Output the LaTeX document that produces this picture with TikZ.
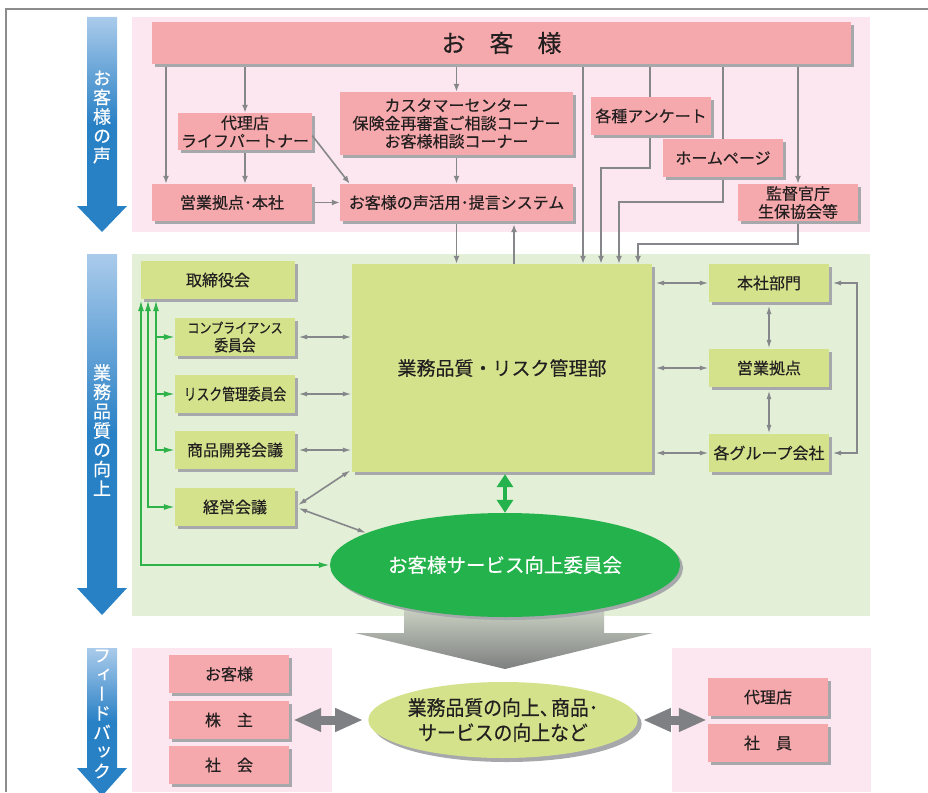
\documentclass[tikz,border=0pt]{standalone}
\usepackage{fontspec}
\usepackage{graphicx}
\setmainfont{Noto Sans CJK JP}[FakeBold=0.35]
\newfontfamily\vjp[RawFeature=+vert,FakeBold=0.35]{Noto Sans CJK JP}
\usetikzlibrary{arrows.meta,shadows,calc,shapes.geometric}
\definecolor{pinkbg}{HTML}{FCE7F0}
\definecolor{greenbg}{HTML}{E3EFD6}
\definecolor{pinkbox}{HTML}{F5A9AC}
\definecolor{greenbox}{HTML}{D4E38B}
\definecolor{shadowc}{HTML}{A7A8AB}
\definecolor{linegray}{HTML}{85878A}
\definecolor{thickgray}{HTML}{7F8083}
\definecolor{arrgreen}{HTML}{2DB34A}
\definecolor{ellgreen}{HTML}{23B24C}
\definecolor{blueA}{HTML}{AACBEB}
\definecolor{blueB}{HTML}{2880C5}
\definecolor{txt}{HTML}{231F20}
\definecolor{framegray}{HTML}{8C8C8C}
\definecolor{garrA}{HTML}{D3DCCB}
\definecolor{garrB}{HTML}{7E7F80}
\begin{document}
\begin{tikzpicture}[x=1pt,y=-1pt,
  boxbase/.style={draw=none, inner sep=0pt, text=txt, align=center,
    font=\fontsize{16}{18}\selectfont,
    general shadow={fill=shadowc, shadow xshift=3pt, shadow yshift=-3pt}},
  pbox/.style={boxbase, fill=pinkbox},
  gbox/.style={boxbase, fill=greenbox},
  sbox/.style={minimum width=120pt, minimum height=38pt},
  vtext/.style={text=white, align=center, inner sep=0pt, font=\vjp\fontsize{18}{19.3}\selectfont},
  gline/.style={draw=linegray, line width=1.6pt},
  garr/.style={gline, -{Latex[length=8pt,width=6pt]}},
  gdbl/.style={gline, {Latex[length=9pt,width=5pt]}-{Latex[length=9pt,width=5pt]}},
  grn/.style={draw=arrgreen, line width=1.5pt},
  grnarr/.style={grn, -{Latex[length=11pt,width=6pt]}},
  grndbl/.style={grn, {Latex[length=11pt,width=6pt]}-{Latex[length=11pt,width=6pt]}},
  thickdbl/.style={draw=thickgray, line width=9pt, {Triangle[length=28pt,width=22pt]}-{Triangle[length=28pt,width=22pt]}},
  bluearrow/.style={top color=blueA, bottom color=blueB, middle color=blueB}
]
\useasboundingbox (0,0) rectangle (928,792);
% frame
\draw[framegray, line width=1.5pt] (6,792) -- (6,9) -- (928,9);
% backgrounds
\fill[pinkbg] (132,17) rectangle (870,232);
\fill[greenbg] (132,254) rectangle (870,616);
\fill[pinkbg] (132,648) rectangle (332,792);
\fill[pinkbg] (672,648) rectangle (871,792);
% blue arrows
\shade[bluearrow] (87,17) -- (117,17) -- (117,206) -- (127,206) -- (102,232) -- (77,206) -- (87,206) -- cycle;
\shade[bluearrow] (87,254) -- (117,254) -- (117,588) -- (127,588) -- (102,615) -- (77,588) -- (87,588) -- cycle;
\begin{scope}
\clip (0,0) rectangle (928,792);
\shade[bluearrow] (87,648) -- (117,648) -- (117,768) -- (127,768) -- (102,796) -- (77,768) -- (87,768) -- cycle;
\end{scope}
\node[vtext] (v1) at (102,117) {お\\客\\様\\の\\声};
\node[vtext] (v2) at (102,430) {業\\務\\品\\質\\の\\向\\上};
\node[vtext] (v3) at (102,714) {フ\\ィ\\ー\\ド\\バ\\ッ\\ク};

% ---------- top section
\node[pbox, minimum width=699pt, minimum height=42pt] (kyaku) at (501.5,43) {\fontsize{24}{26}\selectfont お　客　様};
\node[pbox, minimum width=134pt, minimum height=37pt] (dairi) at (245,131.5) {代理店\\ライフパートナー};
\node[pbox, minimum width=160pt, minimum height=37pt] (eigyo) at (232,202.5) {営業拠点･本社};
\node[pbox, minimum width=233pt, minimum height=63pt] (cust) at (456.5,123.5) {カスタマーセンター\\保険金再審査ご相談コーナー\\お客様相談コーナー};
\node[pbox, minimum width=233pt, minimum height=37pt] (koe) at (456.5,202.5) {お客様の声活用･提言システム};
\node[pbox, sbox] (anke) at (651,116) {各種アンケート};
\node[pbox, sbox] (home) at (723,158) {ホームページ};
\node[pbox, minimum width=120pt, minimum height=37pt] (kantoku) at (798,202.5) {監督官庁\\生保協会等};

% ---------- middle section
\node[gbox, minimum width=154pt, minimum height=38pt] (tori) at (218,280) {取締役会};
\node[gbox, sbox] (comp) at (235,337) {\fontsize{14}{15}\selectfont\scalebox{0.86}[1]{コンプライアンス}\\\scalebox{0.86}[1]{委員会}};
\node[gbox, sbox] (risk) at (235,394) {\scalebox{0.8}[1]{リスク管理委員会}};
\node[gbox, sbox] (shohin) at (235,450) {商品開発会議};
\node[gbox, sbox] (keiei) at (235,507) {経営会議};
\node[gbox, minimum width=300pt, minimum height=208pt] (big) at (502,368) {\fontsize{19}{21}\selectfont 業務品質・リスク管理部};
\node[gbox, sbox] (honsha) at (769,283) {本社部門};
\node[gbox, sbox] (eigyo2) at (769,368) {営業拠点};
\node[gbox, sbox] (group) at (769,453) {各グループ会社};

% big gray arrow (under ellipse)
\shade[top color=garrA, bottom color=garrB] (404,600) -- (604,600) -- (604,633) -- (653,633) -- (505,669) -- (355,633) -- (404,633) -- cycle;

\node[ellipse, fill=ellgreen, minimum width=350pt, minimum height=104pt, inner sep=0pt,
  general shadow={fill=shadowc, shadow xshift=3pt, shadow yshift=-3pt},
  text=white, font=\fontsize{19.5}{22}\selectfont] (ell) at (505,565) {お客様サービス向上委員会};

% ---------- bottom section
\node[pbox, sbox] (kyaku2) at (229,674) {お客様};
\node[pbox, sbox] (kabu) at (229,720) {株　主};
\node[pbox, sbox] (shakai) at (229,765) {社　会};
\node[pbox, sbox] (dairi2) at (768,697) {代理店};
\node[pbox, sbox] (shain) at (768,743) {社　員};
\node[ellipse, fill=greenbox, minimum width=240pt, minimum height=76pt, inner sep=0pt,
  general shadow={fill=shadowc, shadow xshift=4pt, shadow yshift=-4pt},
  text=txt, align=center, font=\fontsize{20.5}{25}\selectfont] (ell2) at (503,720)
  {\scalebox{0.92}[1]{業務品質の向上、\hspace{-0.4em}商品･}\\\scalebox{0.92}[1]{サービスの向上など}};

% ---------- coordinates for connector x positions
\coordinate (xa) at (166,0);
\coordinate (xb) at (583,0);
\coordinate (xc) at (650,0);
\coordinate (xc2) at (601,0);
\coordinate (xd) at (723,0);
\coordinate (xd2) at (619,0);
\coordinate (xe) at (798,0);
\coordinate (xe2) at (638,0);
\coordinate (xu) at (514,0);
\coordinate (ya) at (0,168);
\coordinate (yb) at (0,202);
\coordinate (yc) at (0,244);
\coordinate (g1) at (141,0);
\coordinate (g2) at (148,0);
\coordinate (g3) at (156,0);
\coordinate (br) at (857,0);

% ---------- top connectors
\draw[garr, shorten <=3pt] (xa |- kyaku.south) -- (xa |- eigyo.north);
\draw[garr, shorten <=3pt] (dairi.north |- kyaku.south) -- (dairi.north);
\draw[garr, shorten <=3pt] (cust.north |- kyaku.south) -- (cust.north);
\draw[garr, shorten <=3pt] (xb |- kyaku.south) -- (xb |- big.north);
\draw[gline, shorten <=3pt] (xc |- kyaku.south) -- (xc |- anke.north);
\draw[garr, shorten <=3pt] (xc |- anke.south) -- (xc |- ya) -- (xc2 |- ya) -- (xc2 |- big.north);
\draw[gline, shorten <=3pt] (xd |- kyaku.south) -- (xd |- home.north);
\draw[garr, shorten <=3pt] (xd |- home.south) -- (xd |- yb) -- (xd2 |- yb) -- (xd2 |- big.north);
\draw[garr, shorten <=3pt] (xe |- kyaku.south) -- (xe |- kantoku.north);
\draw[garr, shorten <=3pt] (xe |- kantoku.south) -- (xe |- yc) -- (xe2 |- yc) -- (xe2 |- big.north);
\draw[garr, shorten <=3pt] (dairi.south) -- (dairi.south |- eigyo.north);
\draw[garr] ($(dairi.east)+(0,4)$) -- ($(koe.north west)+(10,0)$);
\draw[garr, shorten <=3pt] (cust.south) -- (cust.south |- koe.north);
\draw[garr, shorten <=3pt] (eigyo.east) -- (koe.west);
\draw[garr, shorten <=3pt] (koe.south) -- (koe.south |- big.north);
\draw[garr, shorten >=3pt] (xu |- big.north) -- (xu |- koe.south);

% ---------- middle connectors (gray)
\draw[gdbl, shorten <=3pt] (comp.east) -- (comp.east -| big.west);
\draw[gdbl, shorten <=3pt] (risk.east) -- (risk.east -| big.west);
\draw[gdbl, shorten <=3pt] (shohin.east) -- (shohin.east -| big.west);
\draw[gdbl, shorten <=3pt] (keiei.east) -- ($(big.south west)+(-1,-2)$);
\draw[gdbl, shorten <=3pt] (keiei.east) -- (ell.167);
\draw[gdbl, shorten <=3pt] (honsha.west -| big.east) -- (honsha.west);
\draw[gdbl, shorten <=3pt] (eigyo2.west -| big.east) -- (eigyo2.west);
\draw[gdbl, shorten <=3pt] (group.west -| big.east) -- (group.west);
\draw[gdbl, shorten <=3pt] (honsha.south) -- (eigyo2.north);
\draw[gdbl, shorten <=3pt] (eigyo2.south) -- (group.north);
\draw[gdbl, shorten <=3pt, shorten >=3pt] (honsha.east) -- (honsha.east -| br) -- (group.east -| br) -- (group.east);

% ---------- green connectors
\draw[grndbl, shorten <=1pt] (g3 |- tori.south) -- (g3 |- shohin.west) -- (shohin.west);
\draw[grnarr] (g3 |- comp.west) -- (comp.west);
\draw[grnarr] (g3 |- risk.west) -- (risk.west);
\draw[grndbl, shorten <=1pt] (g2 |- tori.south) -- (g2 |- keiei.west) -- (keiei.west);
\draw[grndbl, shorten <=1pt] (g1 |- tori.south) -- (g1 |- ell.west) -- (ell.west);
\draw[draw=ellgreen, line width=4pt, shorten <=2pt, {Triangle[length=13pt,width=16pt]}-{Triangle[length=13pt,width=16pt]}] (ell.north |- big.south) -- (ell.north);

% ---------- bottom thick arrows
\draw[thickdbl, shorten <=4pt, shorten >=5pt] (kabu.east) -- (ell2.west);
\draw[thickdbl, shorten <=5pt, shorten >=1pt] (ell2.east) -- (ell2.east -| dairi2.west);
\end{tikzpicture}
\end{document}
